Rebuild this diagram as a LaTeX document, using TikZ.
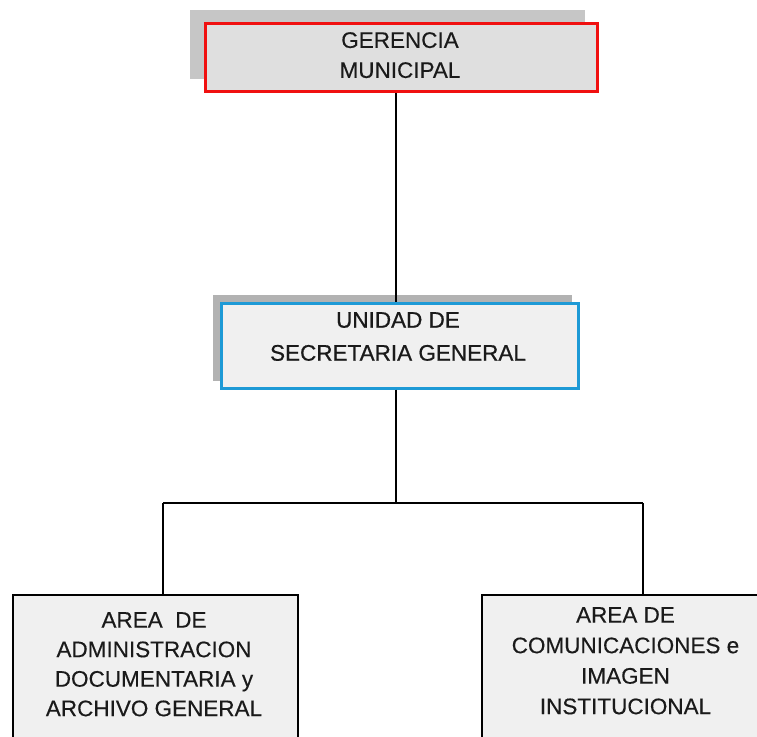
\documentclass[tikz,border=0pt]{standalone}
\usepackage{fontspec}
\setmainfont{Liberation Sans}
\newfontfamily\heavyfont[FakeBold=0.7]{Liberation Sans}
\newfontfamily\mediumfont[FakeBold=0.3]{Liberation Sans}
\definecolor{shadowgray}{HTML}{C6C6C6}
\definecolor{topfill}{HTML}{DFDFDF}
\definecolor{boxfill}{HTML}{F0F0F0}
\definecolor{redline}{HTML}{F01010}
\definecolor{blueline}{HTML}{1E9AD6}
\definecolor{txt}{HTML}{1A1A1A}
\begin{document}
\begin{tikzpicture}[x=1pt,y=-1pt,
  box/.style={rectangle, inner sep=0pt, line width=#1},
  box/.default=2pt,
  lbl/.style={anchor=north, inner sep=0pt, align=center, text=txt, font=\mediumfont\fontsize{22.5}{30}\selectfont},
  conn/.style={line width=1.3pt, black}]
\useasboundingbox (0,0) rectangle (757,736);
\clip (0,0) rectangle (757,736);
\fill[white] (0,0) rectangle (757,736);
% top box
\fill[shadowgray] (190,10) rectangle (585,79);
\node[box=3pt, draw=redline, fill=topfill, minimum width=392pt, minimum height=68pt] (top) at (401.5,57.5) {};
\node[lbl] (toptxt) at (400,32) {GERENCIA\\MUNICIPAL};
% middle box
\fill[shadowgray!90!black] (213,295) rectangle (572,381);
\node[box=3pt, draw=blueline, fill=boxfill, minimum width=357pt, minimum height=85pt] (mid) at (399.5,345.5) {};
\node[lbl, font=\heavyfont\fontsize{22.5}{33}\selectfont] (midtxt) at (398,312) {UNIDAD DE\\SECRETARIA GENERAL};
% bottom boxes
\node[box=2pt, draw=black, fill=boxfill, minimum width=285pt, minimum height=170pt] (left) at (155.5,680) {};
\node[lbl, font=\mediumfont\fontsize{22.5}{29.5}\selectfont] (lefttxt) at (154,612) {AREA\ \ DE\\ADMINISTRACION\\DOCUMENTARIA y\\ARCHIVO GENERAL};
\node[box=2pt, draw=black, fill=boxfill, minimum width=288pt, minimum height=170pt] (right) at (626,680) {};
\node[lbl, font=\mediumfont\fontsize{22.5}{30.5}\selectfont] (righttxt) at (625.5,607) {AREA DE\\COMUNICACIONES e\\IMAGEN\\INSTITUCIONAL};
% connectors
\coordinate (j) at (396,503);
\coordinate (jl) at (163,503);
\coordinate (jr) at (643,503);
\draw[conn] (top.south -| j) -- (mid.north -| j);
\draw[conn] (mid.south -| j) -- (j);
\draw[conn] (jl) -- (jr);
\draw[conn] (jl) -- (jl |- left.north);
\draw[conn] (jr) -- (jr |- right.north);
\end{tikzpicture}
\end{document}
